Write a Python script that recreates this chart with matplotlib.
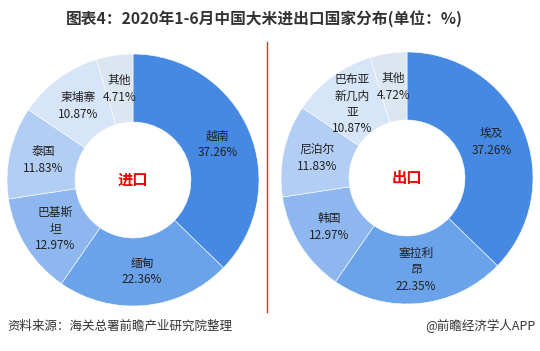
import matplotlib.pyplot as plt
from matplotlib.lines import Line2D

plt.rcParams['font.family'] = ['Noto Sans CJK SC', 'DejaVu Sans']

# 进口
import_names = ['越南', '缅甸', '巴基斯\n坦', '泰国', '柬埔寨', '其他']
import_vals = [37.26, 22.36, 12.97, 11.83, 10.87, 4.71]
# 出口
export_names = ['埃及', '塞拉利\n昂', '韩国', '尼泊尔', '巴布亚\n新几内\n亚', '其他']
export_vals = [37.26, 22.35, 12.97, 11.83, 10.87, 4.72]

colors = ['#4589E3', '#6AA3EA', '#8DB7EE', '#B3CEF4', '#D7E5F8', '#DCE6F1']

W, H = 540, 351
fig = plt.figure(figsize=(5.4, 3.51), dpi=100)


def donut(cx, cy, r, names, vals, center_txt):
    ax = fig.add_axes([(cx - r) / W, 1 - (cy + r) / H, 2 * r / W, 2 * r / H])
    labels = ['%s\n%.2f%%' % (n, v) for n, v in zip(names, vals)]
    wedges, texts = ax.pie(vals, colors=colors, startangle=90, counterclock=False,
                           radius=1.0, labels=labels, labeldistance=0.73,
                           wedgeprops=dict(width=0.54, edgecolor='white', linewidth=0.4),
                           textprops=dict(fontsize=8.5, color='#222222', ha='center', va='center',
                                          linespacing=1.35))
    for t in texts:
        t.set_ha('center')
        t.set_va('center')
    ax.text(0, 0, center_txt, ha='center', va='center', color='#F00000',
            fontsize=11, fontweight='bold')
    ax.set_xlim(-1, 1)
    ax.set_ylim(-1, 1)
    ax.set_aspect('equal')
    ax.axis('off')


donut(133, 180, 126, import_names, import_vals, '进口')
donut(407, 178, 126, export_names, export_vals, '出口')

# red divider
fig.add_artist(Line2D([267 / W, 267 / W], [1 - 42 / H, 1 - 312 / H], color='#FF2020', lw=1))

fig.text(264 / W, 1 - 19 / H, '图表4：2020年1-6月中国大米进出口国家分布(单位：%)',
         ha='center', va='center', fontsize=11.3, fontweight='bold', color='#333333')
fig.text(7 / W, 1 - 326 / H, '资料来源：海关总署前瞻产业研究院整理',
         ha='left', va='center', fontsize=9, color='#333333')
fig.text(535 / W, 1 - 326 / H, '@前瞻经济学人APP',
         ha='right', va='center', fontsize=9, color='#333333')

fig.savefig('out.png', dpi=100)
